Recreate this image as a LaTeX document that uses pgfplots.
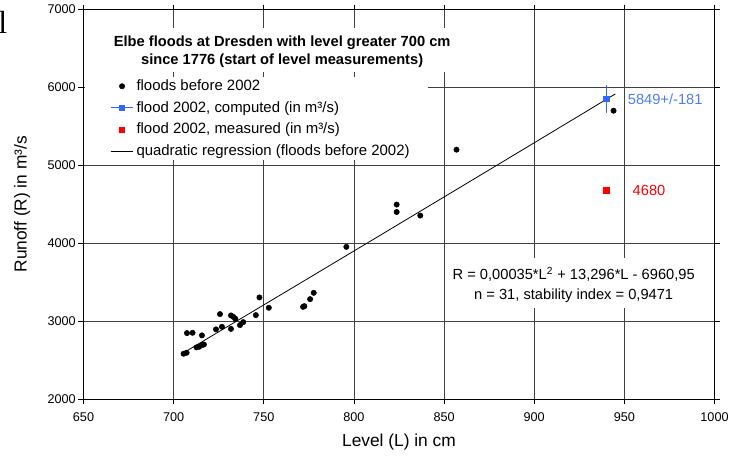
\documentclass[border=0pt]{standalone}
\usepackage{fontspec}
\setmainfont{Liberation Sans}
\newfontfamily\serifl{Liberation Serif}
\usepackage{pgfplots}
\pgfplotsset{compat=1.18}
\definecolor{cblue}{RGB}{51,102,255}
\definecolor{tblue}{RGB}{80,125,245}

\pgfplotstableread{
L R
705.5 2581
707.2 2594
707.4 2846
710.5 2850
715.7 2817
712.7 2663
714.2 2671
715.7 2692
716.8 2700
723.5 2894
725.7 3090
726.8 2927
731.8 2900
731.8 3073
733.1 3055
734.2 3030
736.8 2949
738.6 2987
745.6 3077
747.6 3304
752.8 3171
771.8 3183
772.5 3192
775.7 3282
777.7 3363
795.8 3953
823.7 4496
823.7 4401
836.8 4355
856.9 5201
944.0 5701
}\floods

\begin{document}
\begin{tikzpicture}
\useasboundingbox (-62.625pt,-47.25pt) rectangle (493.875pt,299.25pt);
\node[anchor=base west, inner sep=0, font=\fontsize{24}{24}\selectfont\serifl] at (-64pt,274.5pt) {l};
\begin{axis}[
  scale only axis, width=473.25pt, height=292.125pt,
  xmin=650, xmax=1000, ymin=2000, ymax=7000,
  xtick={650,700,...,1000}, ytick={2000,3000,...,7000},
  grid=major,
  grid style={black!75, line width=0.6pt},
  axis line style={black, line width=0.75pt},
  tick align=outside, major tick length=3.75pt,
  tick style={black, line width=0.6pt},
  /pgf/number format/.cd, 1000 sep={}, assume math mode=true, /pgfplots/.cd,
  tick label style={font=\fontsize{9.5}{11}\selectfont},
  xticklabel style={yshift=-3pt},
  yticklabel style={xshift=1.5pt},
  xlabel={Level (L) in cm},
  ylabel={Runoff (R) in m³/s},
  label style={font=\fontsize{13}{15}\selectfont},
  xlabel style={at={(axis description cs:0.5,0)}, anchor=center, yshift=-32.25pt},
  ylabel style={at={(axis description cs:-0.0972,0.5)}, anchor=center},
  legend style={at={(axis description cs:0.042,0.827)}, anchor=north west,
    fill=none, draw=none, font=\fontsize{11.2}{13}\selectfont, row sep=2.6pt,
    inner sep=0pt, cells={anchor=west}},
  legend cell align=left,
]
\fill[white] (axis cs:651,5064) rectangle (axis cs:841,6128);
\fill[white] (axis cs:663,6192) rectangle (axis cs:857.5,6769);
\fill[white] (axis cs:851.5,3167) rectangle (axis cs:994,3808);

\addplot[only marks, mark=*, mark size=2pt, black] table[x=L,y=R] {\floods};
\addlegendentry{floods before 2002}
\addplot[cblue, line width=0.6pt, mark=square*, mark size=2pt,
  error bars/.cd, y dir=both, y explicit, error mark=none,
  error bar style={cblue, line width=0.6pt}]
  coordinates {(940,5849) +- (0,181)};
\addlegendentry{flood 2002, computed (in m³/s)}
\addplot[only marks, mark=square*, mark size=2pt, red] coordinates {(940,4680)};
\addlegendentry{flood 2002, measured (in m³/s)}
\addplot[black, line width=0.6pt, no marks] coordinates {
(705,2586.7) (720,2793.6) (740,3069.8) (760,3346.2) (780,3622.9) (800,3899.9)
(820,4177.1) (840,4454.7) (860,4732.5) (880,5010.6) (900,5289.0) (920,5567.6) (945,5916.3)};
\addlegendentry{quadratic regression (floods before 2002)}

\node[align=center, font=\bfseries\fontsize{11}{13.5}\selectfont] at (axis cs:760.2,6461)
  {Elbe floods at Dresden with level greater 700 cm\\since 1776 (start of level measurements)};
\node[align=center, font=\fontsize{11}{15}\selectfont] at (axis cs:921.9,3461)
  {R = 0,00035*L\textsuperscript{2} + 13,296*L - 6960,95\\n = 31, stability index = 0,9471};
\node[anchor=west, inner sep=0, text=tblue, font=\fontsize{11}{13}\selectfont] at (axis cs:951.8,5849) {5849+/-181};
\node[anchor=west, inner sep=0, text=red, font=\fontsize{11}{13}\selectfont] at (axis cs:954.5,4680) {4680};
\end{axis}
\end{tikzpicture}
\end{document}
